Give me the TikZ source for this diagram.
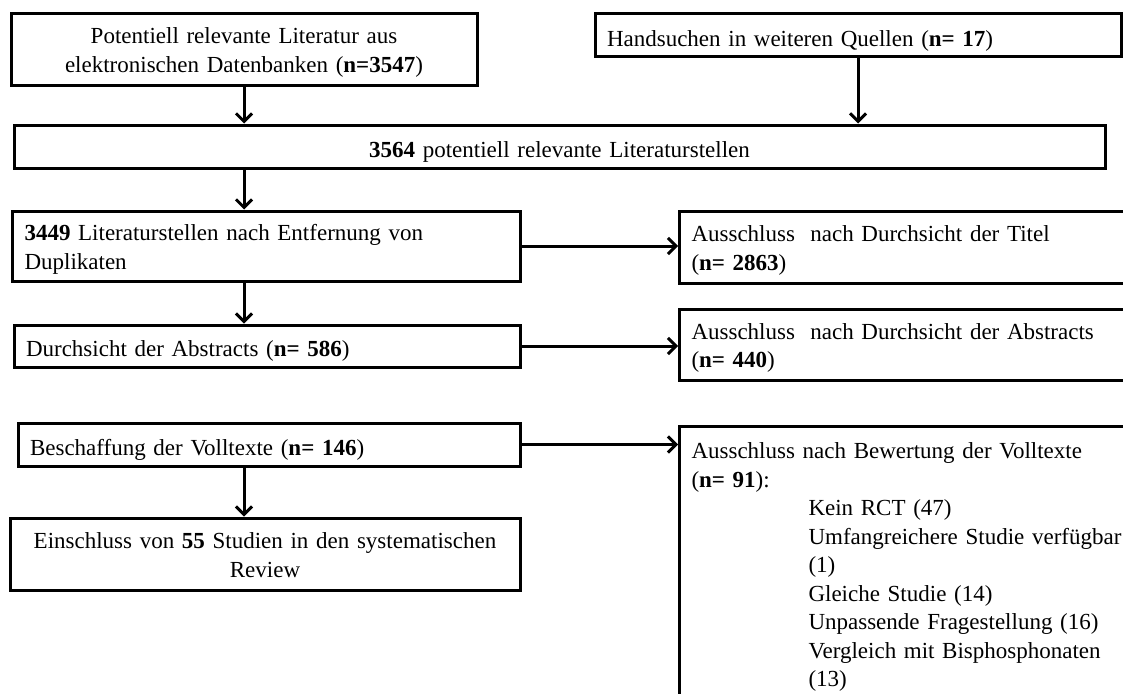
\documentclass[tikz,border=0pt]{standalone}
\usepackage{fontspec}
\setmainfont{Liberation Serif}
\usetikzlibrary{arrows.meta}
\begin{document}
\begin{tikzpicture}[x=1pt,y=-1pt,
  box/.style={draw=black, line width=3pt, rectangle, inner xsep=12pt, inner ysep=4pt,
    font=\fontsize{23}{28.5}\selectfont, text height=21pt},
  one/.style={text depth=0pt},
  two/.style={text depth=32pt},
  conn/.style={line width=3pt, -{Straight Barb[length=8pt,width=16pt,line width=3pt]}}
]
\useasboundingbox (0,0) rectangle (1123,693);
\clip (0,0) rectangle (1123,693);

\node[box,two,align=center,minimum width=466pt,minimum height=71pt,text width=442pt] (db) at (244,49.5)
  {Potentiell relevante Literatur aus\\elektronischen Datenbanken (\textbf{n=3547})};
\node[box,one,align=left,minimum width=526pt,minimum height=43pt,text width=502pt] (hand) at (858,35.5)
  {Handsuchen in weiteren Quellen (\textbf{n= 17})};
\node[box,one,align=center,minimum width=1091pt,minimum height=43pt,text width=1067pt] (all) at (559.5,146.5)
  {\textbf{3564} potentiell relevante Literaturstellen};
\node[box,two,align=left,minimum width=507.5pt,minimum height=70pt,text width=483.5pt] (dup) at (266.25,246)
  {\textbf{3449} Literaturstellen nach Entfernung von\\Duplikaten};
\node[box,one,align=left,minimum width=506pt,minimum height=42pt,text width=482pt] (abs) at (267,346)
  {Durchsicht der Abstracts (\textbf{n= 586})};
\node[box,one,align=left,minimum width=502pt,minimum height=43pt,text width=478pt] (full) at (269,444.5)
  {Beschaffung der Volltexte (\textbf{n= 146})};
\node[box,two,align=center,minimum width=510pt,minimum height=72pt,text width=486pt] (incl) at (265,554)
  {Einschluss von \textbf{55} Studien in den systematischen\\Review};

\node[box,two,align=left,anchor=west,minimum width=480pt,minimum height=72pt,text width=456pt] (exT) at (678,247)
  {Ausschluss\ \ nach Durchsicht der Titel\\(\textbf{n= 2863})};
\node[box,two,align=left,anchor=west,minimum width=480pt,minimum height=71pt,text width=456pt] (exA) at (678,344.5)
  {Ausschluss\ \ nach Durchsicht der Abstracts\\(\textbf{n= 440})};
\node[box,align=left,anchor=north west,inner ysep=11pt,text depth=260pt,text width=456pt] (exF) at (678,425)
  {Ausschluss nach Bewertung der Volltexte\\
   (\textbf{n= 91}):\\
   \hspace*{117pt}Kein RCT (47)\\
   \hspace*{117pt}Umfangreichere Studie verfügbar\\
   \hspace*{117pt}(1)\\
   \hspace*{117pt}Gleiche Studie (14)\\
   \hspace*{117pt}Unpassende Fragestellung (16)\\
   \hspace*{117pt}Vergleich mit Bisphosphonaten\\
   \hspace*{117pt}(13)};

\draw[conn] (db.south) -- (db.south |- all.north);
\draw[conn] (hand.south) -- (hand.south |- all.north);
\draw[conn] (all.south -| db.south) -- (db.south |- dup.north);
\draw[conn] (dup.south -| db.south) -- (db.south |- abs.north);
\draw[conn] (full.south -| db.south) -- (db.south |- incl.north);
\draw[conn] (dup.east) -- (dup.east -| exT.west);
\draw[conn] (abs.east) -- (abs.east -| exA.west);
\draw[conn] (full.east) -- (full.east -| exF.west);
\end{tikzpicture}
\end{document}
